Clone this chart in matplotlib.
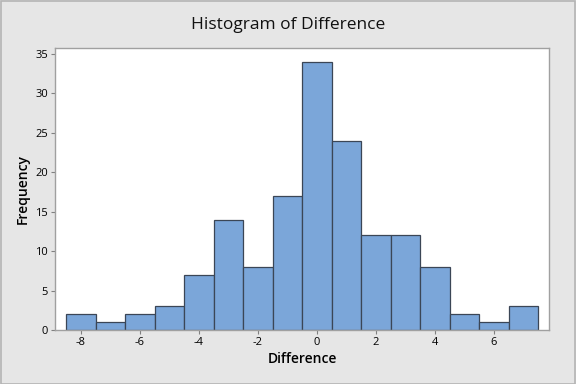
import matplotlib
matplotlib.use('Agg')
import matplotlib.pyplot as plt
from matplotlib.patches import Rectangle

# bin centers and counts
bin_centers = [-8, -7, -6, -5, -4, -3, -2, -1, 0, 1, 2, 3, 4, 5, 6, 7]
counts = [2, 1, 2, 3, 7, 14, 8, 17, 34, 24, 12, 12, 8, 2, 1, 3]
x_ticks = [-8, -6, -4, -2, 0, 2, 4, 6]
y_ticks = [0, 5, 10, 15, 20, 25, 30, 35]

plt.rcParams['font.family'] = ['Open Sans', 'DejaVu Sans']
plt.rcParams['axes.unicode_minus'] = False

fig = plt.figure(figsize=(5.76, 3.84), dpi=100)
fig.patch.set_facecolor('#e6e6e6')
fig.patches.append(Rectangle((0.001, 0.001), 0.997, 0.996, transform=fig.transFigure,
                             fill=False, edgecolor='#b4b4b4', linewidth=1.2))

ax = fig.add_axes([0.0955, 0.1406, 0.8575, 0.7344])
ax.set_facecolor('white')
ax.bar(bin_centers, counts, width=1.0, color='#7ba6d9', edgecolor='#3b4656', linewidth=0.9)

ax.set_xlim(-8.88, 7.86)
ax.set_ylim(0, 35.76)
ax.set_xticks(x_ticks)
ax.set_yticks(y_ticks)
ax.tick_params(axis='both', length=3, color='#808080', labelsize=8, pad=2)
for s in ax.spines.values():
    s.set_color('#a0a0a0')
    s.set_linewidth(1.0)

ax.set_xlabel('Difference', fontsize=10, fontweight='semibold', labelpad=3)
ax.set_ylabel('Frequency', fontsize=10, fontweight='semibold', labelpad=4)
fig.suptitle('Histogram of Difference', fontsize=12.5, color='#111111', y=0.955)

fig.savefig('out.png', dpi=100, facecolor=fig.get_facecolor())
